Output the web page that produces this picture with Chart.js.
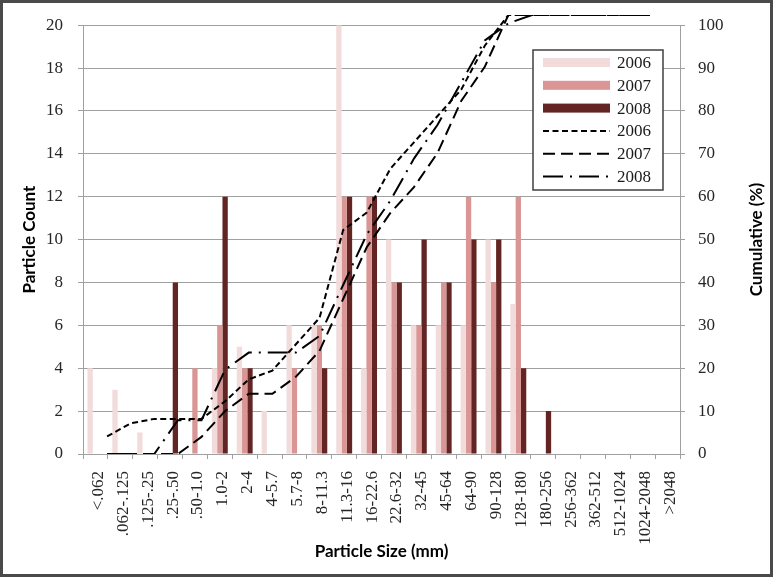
<!DOCTYPE html>
<html>
<head>
<meta charset="utf-8">
<script src="https://cdn.jsdelivr.net/npm/chart.js@4.4.1/dist/chart.umd.min.js"></script>
<style>
  html, body { margin: 0; padding: 0; background: #fff; }
  #wrap { position: relative; width: 773px; height: 577px; }
  #wrap canvas { position: absolute; left: 0; top: 0; display: block; }
  #frame { position: absolute; left: 0; top: 0; width: 773px; height: 577px; box-sizing: border-box; border: 3px solid #4a4a4a; pointer-events: none; }
</style>
</head>
<body>
<div id="wrap">
  <canvas id="grafico" width="773" height="577"></canvas>
  <canvas id="curvas" width="773" height="577"></canvas>
  <div id="frame"></div>
</div>
<script>
// size classes (mm)
const sizeClasses = ['<.062', '.062-.125', '.125-.25', '.25-.50', '.50-1.0', '1.0-2', '2-4', '4-5.7', '5.7-8', '8-11.3',
  '11.3-16', '16-22.6', '22.6-32', '32-45', '45-64', '64-90', '90-128', '128-180', '180-256', '256-362',
  '362-512', '512-1024', '1024-2048', '>2048'];

// particle counts per year
const count2006 = [4, 3, 1, 0, 0, 4, 5, 2, 6, 6, 20, 4, 10, 6, 6, 6, 10, 7, 0, 0, 0, 0, 0, 0];
const count2007 = [0, 0, 0, 0, 4, 6, 4, 0, 4, 6, 12, 12, 8, 6, 8, 12, 8, 12, 0, 0, 0, 0, 0, 0];
const count2008 = [0, 0, 0, 8, 0, 12, 4, 0, 0, 4, 12, 12, 8, 10, 8, 10, 10, 4, 2, 0, 0, 0, 0, 0];

// cumulative (%) per year
const cum2006 = [4, 7, 8, 8, 8, 12, 17, 19, 25, 31, 51, 55, 65, 71, 77, 83, 93, 100, 100, 100, 100, 100, 100, 100];
const cum2007 = [0, 0, 0, 0, 3.9, 9.8, 13.7, 13.7, 17.6, 23.5, 35.3, 47.1, 54.9, 60.8, 68.6, 80.4, 88.2, 100, 100, 100, 100, 100, 100, 100];
const cum2008 = [0, 0, 0, 7.7, 7.7, 19.2, 23.1, 23.1, 23.1, 26.9, 38.5, 50, 57.7, 67.3, 75, 84.6, 94.2, 98.1, 100, 100, 100, 100, 100, 100];

const leftTicks = { min: 0, max: 20, step: 2 };
const rightTicks = { min: 0, max: 100, step: 10 };

const gridColor = '#a0a0a0';
const tickFont = { family: 'Liberation Serif', size: 17 };
const titleFont = { family: 'Lato', size: 17, weight: 'bold' };

// plot box shared by both canvases
const area = { left: 83, right: 93, top: 15, bottom: 123 };

function toPoints(values) {
  return values.map((v, i) => ({ x: i, y: v }));
}

const barSets = [
  { type: 'bar', label: '2006', data: count2006, backgroundColor: '#f2dcdb' },
  { type: 'bar', label: '2007', data: count2007, backgroundColor: '#d99694' },
  { type: 'bar', label: '2008', data: count2008, backgroundColor: '#632523' }
];

const lineSets = [
  { type: 'line', label: '2006', data: toPoints(cum2006), borderColor: '#000', borderWidth: 2, borderDash: [6, 3.5],
    pointRadius: 0, tension: 0, fill: false },
  { type: 'line', label: '2007', data: toPoints(cum2007), borderColor: '#000', borderWidth: 2, borderDash: [12, 6],
    pointRadius: 0, tension: 0, fill: false },
  { type: 'line', label: '2008', data: toPoints(cum2008), borderColor: '#000', borderWidth: 2, borderDash: [20, 7, 2, 7],
    pointRadius: 0, tension: 0, fill: false }
];

// legend box inside the plot
const legendBox = {
  id: 'legendBox',
  afterDraw(chart) {
    const c = chart.ctx;
    c.save();
    c.fillStyle = '#fff';
    c.fillRect(533, 50, 130, 140);
    c.strokeStyle = '#404040';
    c.lineWidth = 1.5;
    c.strokeRect(533, 50, 130, 140);
    barSets.concat(lineSets).forEach((ds, i) => {
      const y = 62.5 + i * 22.8;
      if (ds.type === 'bar') {
        c.fillStyle = ds.backgroundColor;
        c.fillRect(543, y - 4.5, 67, 9);
      } else {
        c.strokeStyle = ds.borderColor;
        c.lineWidth = 2;
        c.setLineDash(ds.borderDash);
        c.beginPath();
        c.moveTo(543, y);
        c.lineTo(610, y);
        c.stroke();
        c.setLineDash([]);
      }
      c.fillStyle = '#1a1a1a';
      c.font = '17px "Liberation Serif"';
      c.textBaseline = 'middle';
      c.fillText(ds.label, 617, y + 1);
    });
    c.restore();
  }
};

// right axis title reads bottom to top
const rightTitle = {
  id: 'rightTitle',
  afterDraw(chart) {
    const c = chart.ctx;
    const a = chart.chartArea;
    c.save();
    c.translate(757, (a.top + a.bottom) / 2);
    c.rotate(-Math.PI / 2);
    c.font = 'bold 17px Lato';
    c.fillStyle = '#000';
    c.textAlign = 'center';
    c.textBaseline = 'middle';
    c.fillText('Cumulative (%)', 0, 0);
    c.restore();
  }
};

// bars and all visible axes
new Chart(document.getElementById('grafico'), {
  type: 'bar',
  data: { labels: sizeClasses, datasets: barSets },
  options: {
    responsive: false,
    animation: false,
    layout: { padding: { top: area.top } },
    datasets: { bar: { barPercentage: 1.0, categoryPercentage: 0.64 } },
    plugins: { legend: { display: false }, tooltip: { enabled: false } },
    scales: {
      x: {
        type: 'category',
        position: 'bottom',
        offset: true,
        grid: { offset: true, drawOnChartArea: false, drawTicks: true, tickLength: 5, color: gridColor },
        border: { color: gridColor },
        ticks: { minRotation: 90, maxRotation: 90, autoSkip: false, padding: 12, labelOffset: 3, font: tickFont, color: '#262626' },
        title: { display: true, text: 'Particle Size (mm)', font: titleFont, color: '#000', padding: { top: 0, bottom: 15 } },
        afterFit: s => { s.height = area.bottom; }
      },
      y: {
        position: 'left',
        min: leftTicks.min,
        max: leftTicks.max,
        ticks: { stepSize: leftTicks.step, padding: 15, font: tickFont, color: '#262626' },
        grid: { color: gridColor, tickLength: 5 },
        border: { color: gridColor },
        title: { display: true, text: 'Particle Count', font: titleFont, color: '#000', padding: { top: 19, bottom: 0 } },
        afterFit: s => { s.width = area.left; }
      },
      y1: {
        position: 'right',
        min: rightTicks.min,
        max: rightTicks.max,
        ticks: { stepSize: rightTicks.step, padding: 13, font: tickFont, color: '#262626' },
        grid: { drawOnChartArea: false, color: gridColor, tickLength: 5 },
        border: { color: gridColor },
        afterFit: s => { s.width = area.right; }
      }
    }
  },
  plugins: [rightTitle]
});

// cumulative curves on a see-through canvas over the same plot box
new Chart(document.getElementById('curvas'), {
  type: 'line',
  data: { datasets: lineSets },
  options: {
    responsive: false,
    animation: false,
    layout: { padding: area },
    plugins: { legend: { display: false }, tooltip: { enabled: false } },
    scales: {
      x: { type: 'linear', display: false, offset: false, min: -1.02, max: 24.27 },
      y: { display: false, min: rightTicks.min, max: rightTicks.max }
    }
  },
  plugins: [legendBox]
});
</script>
</body>
</html>
